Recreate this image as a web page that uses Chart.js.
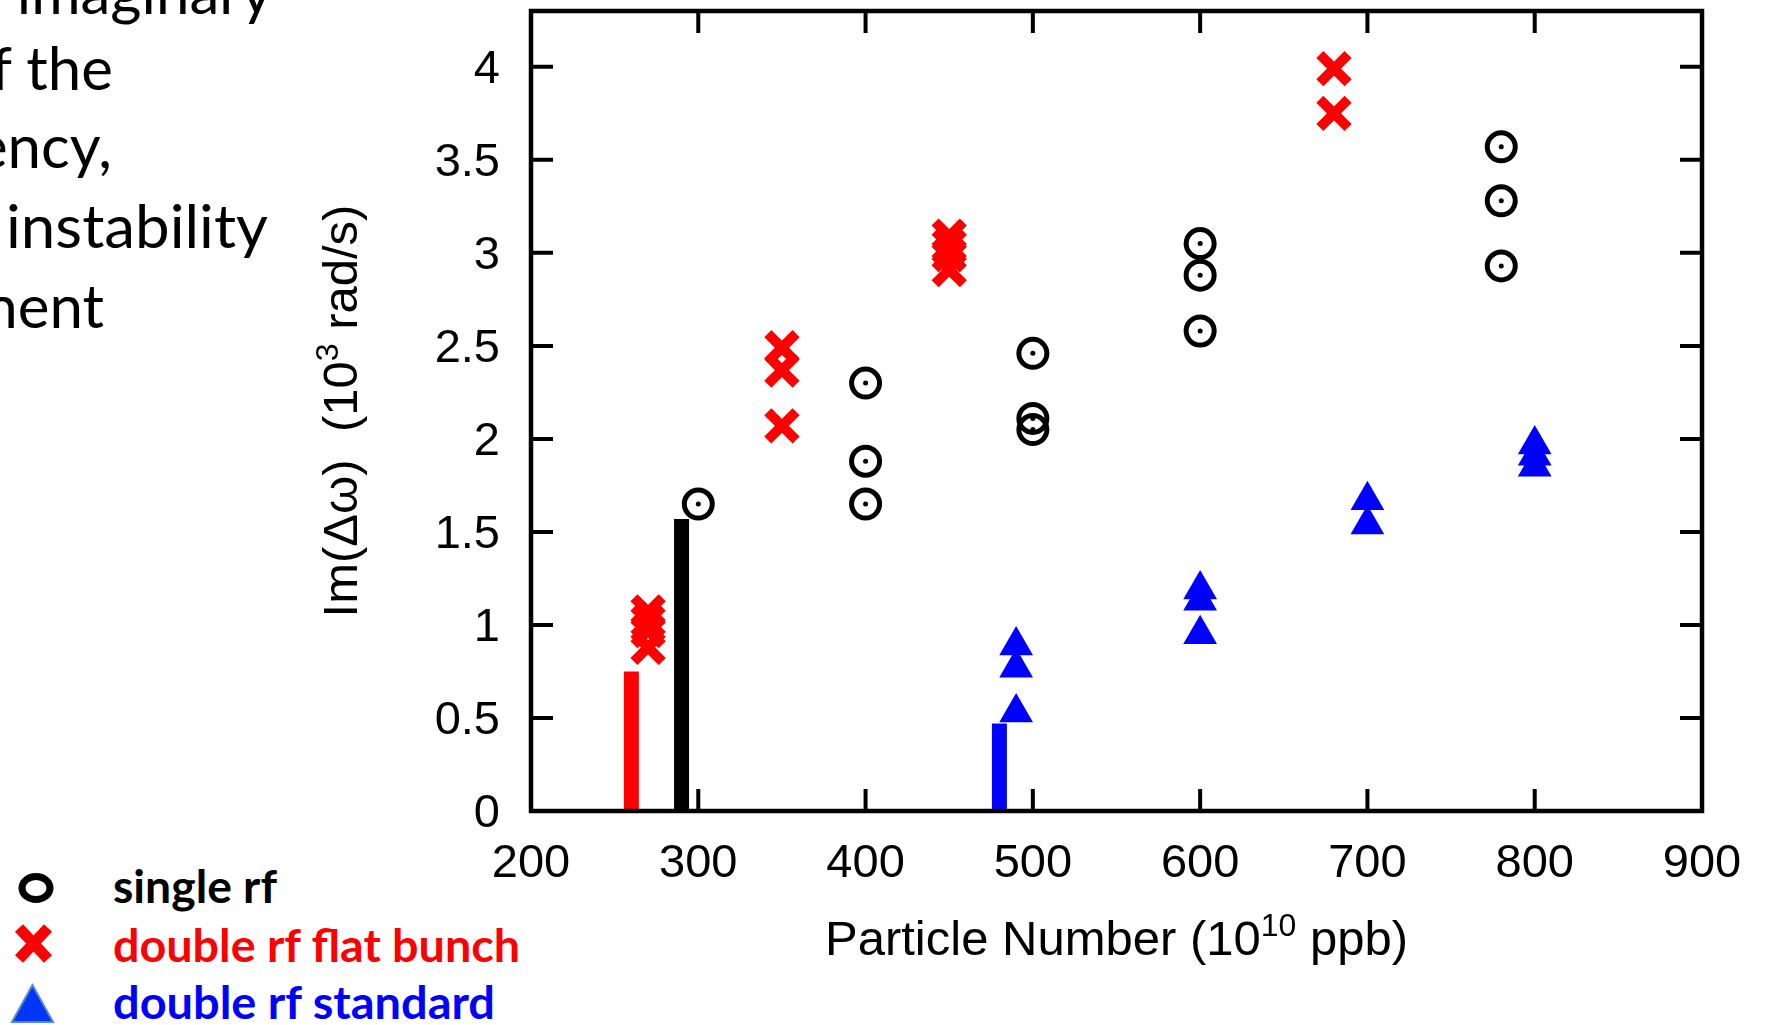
<!DOCTYPE html>
<html>
<head>
<meta charset="utf-8">
<script src="https://cdn.jsdelivr.net/npm/chart.js@4.4.1/dist/chart.umd.min.js"></script>
<style>
  html, body { margin: 0; padding: 0; background: #fff; }
  body { width: 1771px; height: 1025px; overflow: hidden; position: relative; }
  #chart { position: absolute; left: 0; top: 0; }
  #notes { position: absolute; left: 0; top: 0; }
</style>
</head>
<body>
<svg id="notes" width="1771" height="1025" xmlns="http://www.w3.org/2000/svg">
  <g font-family="Lato, 'Open Sans', sans-serif" font-size="60" fill="#000" text-anchor="end">
    <text x="272" y="14">imaginary</text>
    <text x="113" y="90">f the</text>
    <text x="112" y="168">ency,</text>
    <text x="268" y="248" textLength="262" lengthAdjust="spacingAndGlyphs">instability</text>
    <text x="104" y="328">nent</text>
  </g>
  <!-- legend -->
  <ellipse cx="36" cy="888" rx="14" ry="11.5" fill="none" stroke="#000" stroke-width="7"/>
  <path d="M19 928 L48 959 M48 928 L19 959" stroke="#ff0000" stroke-width="11" fill="none"/>
  <polygon points="32.5,985 12,1022 53,1022" fill="#0036f7" stroke="#5b86cf" stroke-width="2"/>
  <g font-family="Lato, 'Open Sans', sans-serif" font-size="46" font-weight="bold">
    <text x="113" y="903" fill="#000" textLength="164" lengthAdjust="spacingAndGlyphs">single rf</text>
    <text x="113" y="962" fill="#ff0000" textLength="407" lengthAdjust="spacingAndGlyphs">double rf flat bunch</text>
    <text x="113" y="1019" fill="#0000ff" textLength="382" lengthAdjust="spacingAndGlyphs">double rf standard</text>
  </g>
</svg>
<canvas id="chart" width="1771" height="1025"></canvas>
<script>
// particle number (1e10 ppb) and Im(dw) (1e3 rad/s) per case
const singleN  = [300, 400, 400, 400, 500, 500, 500, 600, 600, 600, 780, 780, 780];
const singleIm = [1.65, 2.30, 1.88, 1.65, 2.46, 2.11, 2.05, 3.05, 2.88, 2.58, 3.57, 3.28, 2.93];

const flatN  = [270, 270, 270, 270, 350, 350, 350, 450, 450, 450, 450, 680, 680];
const flatIm = [1.07, 1.02, 0.97, 0.88, 2.49, 2.37, 2.07, 3.09, 3.04, 2.99, 2.91, 3.99, 3.75];

const standardN  = [490, 490, 490, 600, 600, 600, 700, 700, 800, 800, 800];
const standardIm = [0.89, 0.77, 0.53, 1.19, 1.13, 0.95, 1.67, 1.54, 1.97, 1.91, 1.85];

// thresholds (vertical bars): flat bunch, single rf, standard
const thresholdN  = [260, 290, 480];
const thresholdIm = [0.75, 1.57, 0.47];

const xTicks = [200, 300, 400, 500, 600, 700, 800, 900];
const yTicks = [0, 0.5, 1, 1.5, 2, 2.5, 3, 3.5, 4];

const toPoints = (xs, ys) => xs.map((x, i) => ({ x: x, y: ys[i] }));
const barColors = ['#ff0000', '#000000', '#0000ff'];
const tickFont = { family: 'Liberation Sans, Arial, sans-serif', size: 47 };

const datasets = [
  {
    label: 'single rf dots',
    data: toPoints(singleN, singleIm),
    pointStyle: 'circle',
    pointRadius: 2.5,
    backgroundColor: '#000',
    borderWidth: 0
  },
  {
    label: 'single rf',
    data: toPoints(singleN, singleIm),
    pointStyle: 'circle',
    pointRadius: 14,
    borderWidth: 5,
    borderColor: '#000',
    backgroundColor: 'rgba(0,0,0,0)'
  },
  {
    label: 'double rf flat bunch',
    data: toPoints(flatN, flatIm),
    pointStyle: 'crossRot',
    pointRadius: 20,
    borderWidth: 10,
    borderColor: '#ff0000',
    backgroundColor: '#ff0000'
  },
  {
    label: 'double rf standard',
    data: toPoints(standardN, standardIm),
    pointStyle: 'triangle',
    pointRadius: 19.5,
    borderWidth: 0,
    backgroundColor: '#0000ff'
  }
];

thresholdN.forEach((n, i) => {
  datasets.push({
    label: 'threshold ' + i,
    data: [{ x: n, y: 0 }, { x: n, y: thresholdIm[i] }],
    showLine: true,
    borderColor: barColors[i],
    borderWidth: 15,
    borderCapStyle: 'butt',
    pointRadius: 0
  });
});

// draws a string made of pieces, some raised as superscripts
function drawPieces(ctx, pieces, cx, baseline) {
  let total = 0;
  pieces.forEach(p => {
    ctx.font = p.size + 'px "Liberation Sans", Arial, sans-serif';
    p.w = ctx.measureText(p.text).width;
    total += p.w;
  });
  let x = cx - total / 2;
  pieces.forEach(p => {
    ctx.font = p.size + 'px "Liberation Sans", Arial, sans-serif';
    ctx.fillText(p.text, x, baseline - (p.rise || 0));
    x += p.w;
  });
}

const gnuplotFrame = {
  id: 'gnuplotFrame',
  afterDatasetsDraw(chart) {
    const { ctx, chartArea: a, scales: { x, y } } = chart;
    ctx.save();
    ctx.strokeStyle = '#000';
    ctx.lineWidth = 4;
    ctx.beginPath();
    xTicks.forEach(v => {
      const px = x.getPixelForValue(v);
      ctx.moveTo(px, a.bottom); ctx.lineTo(px, a.bottom - 22);
      ctx.moveTo(px, a.top); ctx.lineTo(px, a.top + 22);
    });
    yTicks.forEach(v => {
      const py = y.getPixelForValue(v);
      ctx.moveTo(a.left, py); ctx.lineTo(a.left + 22, py);
      ctx.moveTo(a.right, py); ctx.lineTo(a.right - 22, py);
    });
    ctx.stroke();
    ctx.lineWidth = 4.5;
    ctx.strokeRect(a.left, a.top, a.right - a.left, a.bottom - a.top);

    ctx.fillStyle = '#000';
    ctx.textBaseline = 'alphabetic';
    ctx.textAlign = 'left';
    drawPieces(ctx, [
      { text: 'Particle Number (10', size: 49 },
      { text: '10', size: 32, rise: 19 },
      { text: ' ppb)', size: 49 }
    ], (a.left + a.right) / 2, a.bottom + 144);

    ctx.translate(a.left - 174, (a.top + a.bottom) / 2);
    ctx.rotate(-Math.PI / 2);
    drawPieces(ctx, [
      { text: 'Im(\u0394\u03c9)  (10', size: 49 },
      { text: '3', size: 32, rise: 19 },
      { text: ' rad/s)', size: 49 }
    ], 0, 0);
    ctx.restore();
  }
};

new Chart(document.getElementById('chart'), {
  type: 'scatter',
  data: { datasets: datasets },
  options: {
    responsive: false,
    devicePixelRatio: 1,
    animation: false,
    layout: { autoPadding: false, padding: { left: 400, right: 69, top: 11, bottom: 114 } },
    plugins: { legend: { display: false }, tooltip: { enabled: false } },
    scales: {
      x: {
        type: 'linear',
        position: 'bottom',
        min: 200,
        max: 900,
        grid: { display: false, drawTicks: false },
        border: { display: false },
        ticks: { stepSize: 100, padding: 25, color: '#000', font: tickFont, maxRotation: 0, autoSkip: false },
        afterFit: s => {
          s.height = 100;
          s.paddingLeft = 0; s.paddingRight = 0; s.paddingTop = 0; s.paddingBottom = 0;
        }
      },
      y: {
        type: 'linear',
        min: 0,
        max: 4.3,
        grid: { display: false, drawTicks: false },
        border: { display: false },
        ticks: {
          stepSize: 0.5,
          includeBounds: false,
          padding: 31,
          labelOffset: 3,
          color: '#000',
          font: tickFont,
          callback: v => String(v)
        },
        afterBuildTicks: s => { s.ticks = yTicks.map(v => ({ value: v })); },
        afterFit: s => {
          s.width = 131;
          s.paddingLeft = 0; s.paddingRight = 0; s.paddingTop = 0; s.paddingBottom = 0;
        }
      }
    }
  },
  plugins: [gnuplotFrame]
});
</script>
</body>
</html>
